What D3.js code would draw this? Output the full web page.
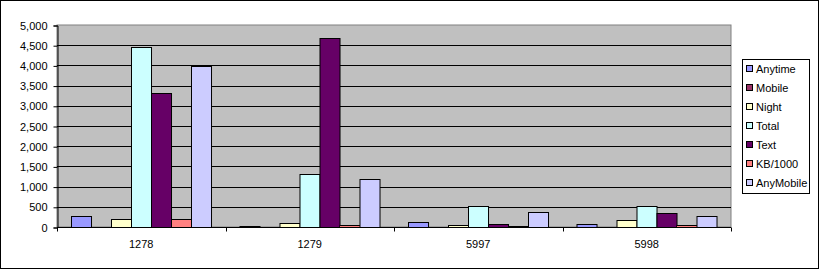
<!DOCTYPE html>
<head>
    <meta charset="utf-8">
    <style>
        html, body { margin: 0; padding: 0; background: #fff; }
        svg { display: block; font-family: "Liberation Sans", Arial, sans-serif; font-size: 11px; }
    </style>
    <script src="https://d3js.org/d3.v7.min.js"></script>
</head>
<body>
    <div id="chart"></div>
    <script>
        // data
        var categories = ["1278", "1279", "5997", "5998"];
        var seriesNames = ["Anytime", "Mobile", "Night", "Total", "Text", "KB/1000", "AnyMobile"];
        var seriesColors = ["#9999ff", "#993366", "#ffffcc", "#ccffff", "#660066", "#ff8080", "#ccccff"];
        var anytime   = [265, 20, 115, 70];
        var mobile    = [0, 0, 0, 0];
        var night     = [190, 100, 45, 173];
        var total     = [4450, 1305, 512, 512];
        var text      = [3310, 4670, 70, 340];
        var kb1000    = [195, 40, 15, 42];
        var anyMobile = [3990, 1180, 364, 265];
        var yTicks = [0, 500, 1000, 1500, 2000, 2500, 3000, 3500, 4000, 4500, 5000];

        var values = [anytime, mobile, night, total, text, kb1000, anyMobile];

        var W = 819, H = 269;
        var plot = { left: 57, top: 25, right: 731, bottom: 227 };

        var svg = d3.select("#chart").append("svg")
            .attr("width", W).attr("height", H);

        // chart border
        svg.append("rect")
            .attr("x", 0.5).attr("y", 0.5)
            .attr("width", W - 1).attr("height", H - 1)
            .attr("fill", "#fff").attr("stroke", "#000");

        var x0 = d3.scaleBand().domain(categories).range([plot.left, plot.right]);
        var x1 = d3.scaleBand().domain(seriesNames).range([0, x0.bandwidth()]).paddingOuter(0.71);
        var y = d3.scaleLinear().domain([0, 5000]).range([plot.bottom, plot.top]);

        // plot background
        svg.append("rect")
            .attr("x", plot.left).attr("y", plot.top)
            .attr("width", plot.right - plot.left).attr("height", plot.bottom - plot.top)
            .attr("fill", "#c0c0c0").attr("stroke", "#808080");

        // gridlines
        svg.append("g").selectAll("line")
            .data(yTicks.filter(function (d) { return d > 0 && d < 5000; }))
            .enter().append("line")
            .attr("x1", plot.left).attr("x2", plot.right)
            .attr("y1", function (d) { return Math.round(y(d)) + 0.5; })
            .attr("y2", function (d) { return Math.round(y(d)) + 0.5; })
            .attr("stroke", "#000");

        // bars
        var groups = svg.append("g").selectAll("g")
            .data(categories)
            .enter().append("g")
            .attr("transform", function (d) { return "translate(" + x0(d) + ",0)"; });

        groups.selectAll("rect")
            .data(function (c, ci) {
                return seriesNames.map(function (s, si) {
                    return { s: s, v: values[si][ci], color: seriesColors[si] };
                });
            })
            .enter().filter(function (d) { return d.v > 0; }).append("rect")
            .attr("x", function (d) { return Math.round(x1(d.s)) + 0.5; })
            .attr("width", x1.bandwidth())
            .attr("y", function (d) { return Math.round(y(d.v)) + 0.5; })
            .attr("height", function (d) { return Math.max(0, Math.round(y(0)) - Math.round(y(d.v))); })
            .attr("fill", function (d) { return d.color; })
            .attr("stroke", "#000");

        // y axis
        var yAxis = svg.append("g")
            .attr("transform", "translate(" + (plot.left + 0.5) + ",0.5)")
            .call(d3.axisLeft(y).tickValues(yTicks).tickSize(4).tickPadding(6)
                .tickFormat(d3.format(",")));
        yAxis.select(".domain").attr("stroke", "#000");
        yAxis.selectAll("text").attr("fill", "#000")
            .style("font-family", "Liberation Sans, Arial, sans-serif").style("font-size", "11px");

        // x axis
        var xAxis = svg.append("g")
            .attr("transform", "translate(0," + (plot.bottom + 0.5) + ")");
        xAxis.append("line")
            .attr("x1", plot.left).attr("x2", plot.right)
            .attr("stroke", "#000");
        xAxis.selectAll("line.tick")
            .data(categories.concat(["end"]))
            .enter().append("line")
            .attr("class", "tick")
            .attr("x1", function (d, i) { return Math.round(plot.left + i * x0.step()) + 0.5; })
            .attr("x2", function (d, i) { return Math.round(plot.left + i * x0.step()) + 0.5; })
            .attr("y1", 0).attr("y2", 4)
            .attr("stroke", "#000");
        xAxis.selectAll("text")
            .data(categories)
            .enter().append("text")
            .attr("x", function (d) { return x0(d) + x0.bandwidth() / 2; })
            .attr("y", 20)
            .attr("text-anchor", "middle")
            .text(function (d) { return d; });

        // legend
        var legend = svg.append("g").attr("transform", "translate(742,59)");
        legend.append("rect")
            .attr("x", 0.5).attr("y", 0.5)
            .attr("width", 67).attr("height", 134)
            .attr("fill", "#fff").attr("stroke", "#000");
        var item = legend.selectAll("g.item")
            .data(seriesNames)
            .enter().append("g")
            .attr("class", "item")
            .attr("transform", function (d, i) { return "translate(0," + (10 + i * 19) + ")"; });
        item.append("rect")
            .attr("x", 4.5).attr("y", -3.5)
            .attr("width", 6).attr("height", 6)
            .attr("fill", function (d, i) { return seriesColors[i]; })
            .attr("stroke", "#000");
        item.append("text")
            .attr("x", 14).attr("y", 4)
            .text(function (d) { return d; });
    </script>
</body>
